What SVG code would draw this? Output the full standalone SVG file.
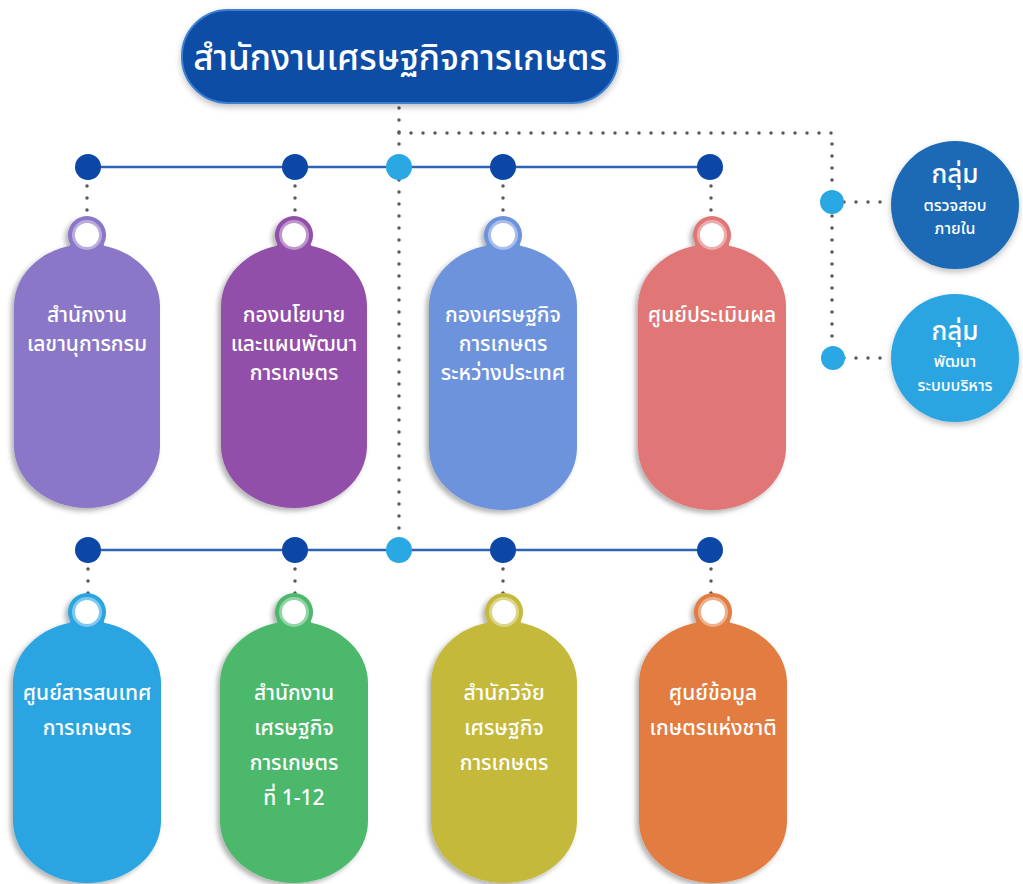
<svg xmlns="http://www.w3.org/2000/svg" xmlns:xlink="http://www.w3.org/1999/xlink" width="1023" height="884" viewBox="0 0 1023 884">
<defs>
<filter id="sh" x="-20%" y="-10%" width="140%" height="120%">
<feDropShadow dx="-3" dy="3" stdDeviation="2.5" flood-color="#000" flood-opacity="0.3"/>
</filter>
<filter id="sh2" x="-10%" y="-20%" width="120%" height="140%">
<feDropShadow dx="0" dy="3" stdDeviation="3" flood-color="#000" flood-opacity="0.25"/>
</filter>
<path id="hump" d="M-44 21.5 C-34 15.1 -14.3 13.9 -17 8.5 A19 19 0 1 1 17 8.5 C14.3 13.9 34 15.1 44 21.5 L44 50 L-44 50 Z"/>
<g id="eye">
<circle r="15" fill="#fff" fill-opacity="0.4"/>
<circle r="12" fill="#fff"/>
</g>
</defs>
<style>
.bus{stroke:#2f63b8;stroke-width:2.5;fill:none}
.dot{stroke:#595959;stroke-width:3.5;stroke-linecap:round;stroke-dasharray:0 12;fill:none}
.dk{fill:#0b47a6}
.lt{fill:#2aa8e3}
.t{font-family:"Noto Sans Thai","Noto Sans","DejaVu Sans",sans-serif;fill:#fff;font-weight:500;text-anchor:middle}
.pt{font-size:21px}
.st{font-size:16px}
</style>
<rect width="1023" height="884" fill="#fff"/>

<g id="connectors">
<path class="dot" d="M399 108 V550"/>
<path class="dot" d="M399 133 H832 V358"/>
<path class="dot" d="M832 202 H892"/>
<path class="dot" d="M832 358 H892"/>
<line class="bus" x1="88" y1="167" x2="710" y2="167"/>
<line class="bus" x1="88" y1="550" x2="710" y2="550"/>
<path class="dot" d="M87 186 V216 M295 186 V216 M503 186 V216 M711 186 V216"/>
<path class="dot" d="M88 569 V599 M295 569 V599 M503 569 V599 M711 569 V599"/>
<circle class="dk" cx="88" cy="167" r="13"/>
<circle class="dk" cx="295" cy="167" r="13"/>
<circle class="lt" cx="399" cy="167" r="13"/>
<circle class="dk" cx="503" cy="167" r="13"/>
<circle class="dk" cx="710" cy="167" r="13"/>
<circle class="dk" cx="88" cy="550" r="13"/>
<circle class="dk" cx="295" cy="550" r="13"/>
<circle class="lt" cx="399" cy="550" r="13"/>
<circle class="dk" cx="503" cy="550" r="13"/>
<circle class="dk" cx="710" cy="550" r="13"/>
<circle class="lt" cx="832" cy="202" r="12"/>
<circle class="lt" cx="833" cy="358" r="12"/>
</g>

<g id="title">
<rect x="182" y="10" width="436" height="93" rx="46" fill="#0c4da6" stroke="#3d7fd0" stroke-width="2" filter="url(#sh2)"/>
<text class="t" x="400" y="70" font-size="35">สำนักงานเศรษฐกิจการเกษตร</text>
</g>

<g id="n1">
<g filter="url(#sh)" fill="#8a77c7">
<rect x="14" y="244" width="146" height="264" rx="73" ry="62"/>
<use xlink:href="#hump" x="87" y="235"/>
</g>
<use xlink:href="#eye" x="87" y="235"/>
<text class="t pt" x="87" y="322">สำนักงาน</text>
<text class="t pt" x="87" y="351">เลขานุการกรม</text>
</g>

<g id="n2">
<g filter="url(#sh)" fill="#9150a9">
<rect x="221" y="244" width="146" height="264" rx="73" ry="62"/>
<use xlink:href="#hump" x="294" y="235"/>
</g>
<use xlink:href="#eye" x="294" y="235"/>
<text class="t pt" x="294" y="322">กองนโยบาย</text>
<text class="t pt" x="294" y="351">และแผนพัฒนา</text>
<text class="t pt" x="294" y="380">การเกษตร</text>
</g>

<g id="n3">
<g filter="url(#sh)" fill="#6e93dd">
<rect x="429" y="244" width="148" height="266" rx="74" ry="62"/>
<use xlink:href="#hump" x="503" y="235"/>
</g>
<use xlink:href="#eye" x="503" y="235"/>
<text class="t pt" x="503" y="322">กองเศรษฐกิจ</text>
<text class="t pt" x="503" y="351">การเกษตร</text>
<text class="t pt" x="503" y="380">ระหว่างประเทศ</text>
</g>

<g id="n4">
<g filter="url(#sh)" fill="#e07676">
<rect x="638" y="244" width="148" height="266" rx="74" ry="62"/>
<use xlink:href="#hump" x="712" y="235"/>
</g>
<use xlink:href="#eye" x="712" y="235"/>
<text class="t pt" x="712" y="322">ศูนย์ประเมินผล</text>
</g>

<g id="n5">
<g filter="url(#sh)" fill="#2aa5e2">
<rect x="13" y="621" width="148" height="262" rx="74" ry="62"/>
<use xlink:href="#hump" x="87" y="612"/>
</g>
<use xlink:href="#eye" x="87" y="612"/>
<text class="t pt" x="87" y="700">ศูนย์สารสนเทศ</text>
<text class="t pt" x="87" y="735">การเกษตร</text>
</g>

<g id="n6">
<g filter="url(#sh)" fill="#4bb86c">
<rect x="220" y="621" width="148" height="262" rx="74" ry="62"/>
<use xlink:href="#hump" x="294" y="612"/>
</g>
<use xlink:href="#eye" x="294" y="612"/>
<text class="t pt" x="294" y="700">สำนักงาน</text>
<text class="t pt" x="294" y="735">เศรษฐกิจ</text>
<text class="t pt" x="294" y="770">การเกษตร</text>
<text class="t pt" x="294" y="805">ที่ 1-12</text>
</g>

<g id="n7">
<g filter="url(#sh)" fill="#c4b93a">
<rect x="431" y="621" width="146" height="262" rx="73" ry="62"/>
<use xlink:href="#hump" x="504" y="612"/>
</g>
<use xlink:href="#eye" x="504" y="612"/>
<text class="t pt" x="504" y="700">สำนักวิจัย</text>
<text class="t pt" x="504" y="735">เศรษฐกิจ</text>
<text class="t pt" x="504" y="770">การเกษตร</text>
</g>

<g id="n8">
<g filter="url(#sh)" fill="#e27b3f">
<rect x="639" y="621" width="148" height="262" rx="74" ry="62"/>
<use xlink:href="#hump" x="713" y="612"/>
</g>
<use xlink:href="#eye" x="713" y="612"/>
<text class="t pt" x="713" y="700">ศูนย์ข้อมูล</text>
<text class="t pt" x="713" y="735">เกษตรแห่งชาติ</text>
</g>

<g id="g1">
<circle cx="955" cy="205" r="64" fill="#1b6bb6" filter="url(#sh2)"/>
<text class="t" x="955" y="183" font-size="26">กลุ่ม</text>
<text class="t st" x="955" y="211">ตรวจสอบ</text>
<text class="t st" x="955" y="234">ภายใน</text>
</g>

<g id="g2">
<circle cx="955" cy="358" r="64" fill="#2aa5e2" filter="url(#sh2)"/>
<text class="t" x="955" y="340" font-size="26">กลุ่ม</text>
<text class="t st" x="955" y="367">พัฒนา</text>
<text class="t st" x="955" y="391">ระบบบริหาร</text>
</g>
</svg>
